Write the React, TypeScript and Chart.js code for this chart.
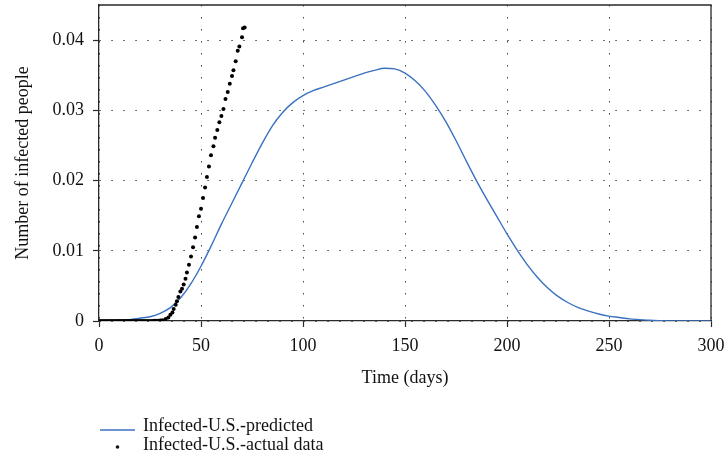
import React, { useEffect, useRef } from "react";
import { Chart, registerables } from "chart.js";

Chart.register(...registerables);

const predictedDays = [
  0, 5, 10, 15, 20, 25, 30, 35, 40, 45, 50, 55, 60, 65, 70, 75, 80, 85, 90, 95,
  100, 105, 110, 115, 120, 125, 130, 135, 140, 145, 150, 155, 160, 165, 170, 175,
  180, 185, 190, 195, 200, 205, 210, 215, 220, 225, 230, 235, 240, 245, 250, 255,
  260, 265, 270, 275, 280, 285, 290, 295, 300,
];
const predictedValues = [
  0, 0.00003, 0.0001, 0.0002, 0.0004, 0.0006, 0.0011, 0.0019, 0.0033, 0.0053,
  0.0078, 0.0107, 0.0138, 0.0167, 0.0196, 0.0225, 0.0253, 0.0278, 0.0297, 0.0311,
  0.0321, 0.0328, 0.0333, 0.0338, 0.0343, 0.0348, 0.0353, 0.0357, 0.036, 0.0359,
  0.0353, 0.0342, 0.0327, 0.0307, 0.0284, 0.0257, 0.0228, 0.02, 0.0174, 0.0149,
  0.0124, 0.0101, 0.008, 0.0062, 0.0047, 0.0035, 0.0026, 0.0019, 0.0014, 0.001,
  0.0007, 0.0005, 0.0003, 0.0002, 0.0001, 0.00005, 0.00002, 0.00001, 0, 0, 0,
];

const actualDays = [
  0, 1, 2, 3, 4, 5, 6, 7, 8, 9, 10, 11, 12, 13, 14, 15, 16, 17, 18, 19, 20, 21,
  22, 23, 24, 25, 26, 27, 28, 29, 30,
  31.1, 32.7, 34.0, 35.0, 36.0, 36.6, 37.6, 38.2, 38.9, 39.9,
  40.7, 41.5, 42.4, 43.1, 44.1, 45.1, 46.1, 47.1, 48.0, 49.0,
  50.0, 51.0, 52.0, 52.9, 53.9, 54.9, 56.1, 56.9, 58.0, 59.0,
  60.0, 61.0, 62.0, 63.1, 64.1, 65.2, 65.9, 67.0, 68.0, 68.8,
  70.1, 70.6, 71.4,
];
const actualValues = [
  0, 0, 0, 0, 0, 0, 0, 0, 0, 0, 0, 0, 0, 0, 0, 0, 0, 0, 0, 0, 0, 0, 0, 0, 0, 0,
  0, 0.00002, 0.00003, 0.00005, 0.00007,
  0.0001, 0.0003, 0.0005, 0.0009, 0.0012, 0.0017, 0.0023, 0.0028, 0.0034, 0.0042,
  0.0046, 0.0052, 0.006, 0.0069, 0.008, 0.0092, 0.0105, 0.0119, 0.0134, 0.0149,
  0.016, 0.0175, 0.019, 0.0205, 0.022, 0.0236, 0.0249, 0.0261, 0.0272, 0.0283,
  0.0292, 0.0302, 0.0316, 0.0326, 0.0338, 0.0349, 0.0357, 0.037, 0.0385, 0.0391,
  0.0404, 0.0417, 0.0418,
];

const yTickValues = [0, 0.01, 0.02, 0.03, 0.04];
const xTickValues = [0, 50, 100, 150, 200, 250, 300];

const legendLabels = ["Infected-U.S.-predicted", "Infected-U.S.-actual data"];
const xTitle = "Time (days)";
const yTitle = "Number of infected people";

const FONT = '"Liberation Serif", "Times New Roman", serif';
const BLUE = "#3a71c1";
const FRAME = "#2a2a2a";
const GRID = "#444444";

const framePlugin = {
  id: "frame",
  afterDraw(chart: any) {
    const { ctx, chartArea } = chart;
    ctx.save();
    ctx.strokeStyle = FRAME;
    ctx.lineWidth = 1.3;
    ctx.beginPath();
    ctx.moveTo(chartArea.left, chartArea.top);
    ctx.lineTo(chartArea.right, chartArea.top);
    ctx.lineTo(chartArea.right, chartArea.bottom);
    ctx.stroke();
    ctx.restore();
  },
};

const legendPlugin = {
  id: "customLegend",
  afterDraw(chart: any) {
    const { ctx } = chart;
    ctx.save();
    ctx.font = `18px ${FONT}`;
    ctx.fillStyle = "#111";
    ctx.textBaseline = "alphabetic";
    ctx.textAlign = "left";
    ctx.strokeStyle = BLUE;
    ctx.lineWidth = 1.4;
    ctx.beginPath();
    ctx.moveTo(100, 430);
    ctx.lineTo(135, 430);
    ctx.stroke();
    ctx.fillText(legendLabels[0], 143, 431);
    ctx.beginPath();
    ctx.arc(117.5, 447, 1.8, 0, Math.PI * 2);
    ctx.fill();
    ctx.fillText(legendLabels[1], 143, 450);
    ctx.restore();
  },
};

export default function App() {
  const ref = useRef<HTMLCanvasElement | null>(null);

  useEffect(() => {
    if (!ref.current) return;
    const chart = new Chart(ref.current, {
      type: "scatter",
      data: {
        datasets: [
          {
            label: legendLabels[1],
            data: actualDays.map((d, i) => ({ x: d, y: actualValues[i] })),
            showLine: false,
            pointRadius: 2,
            pointBackgroundColor: "#000",
            pointBorderWidth: 0,
            borderColor: "#000",
          },
          {
            label: legendLabels[0],
            data: predictedDays.map((d, i) => ({ x: d, y: predictedValues[i] })),
            showLine: true,
            pointRadius: 0,
            borderColor: BLUE,
            borderWidth: 1.4,
            cubicInterpolationMode: "monotone",
          },
        ],
      },
      options: {
        responsive: false,
        animation: false,
        devicePixelRatio: 1,
        layout: { padding: { left: 0, top: 5, right: 16, bottom: 71 } },
        plugins: {
          legend: { display: false },
          tooltip: { enabled: false },
        },
        scales: {
          x: {
            type: "linear",
            min: 0,
            max: 300,
            afterBuildTicks(scale: any) {
              scale.ticks = xTickValues.map((v) => ({ value: v }));
            },
            afterFit(scale: any) {
              scale.height = 68;
              scale.paddingLeft = 0;
              scale.paddingRight = 0;
            },
            ticks: {
              font: { family: FONT, size: 18 },
              color: "#111",
              padding: 8,
              maxRotation: 0,
            },
            grid: {
              color: GRID,
              lineWidth: 1,
              tickLength: 6,
              tickColor: FRAME,
              tickWidth: 1.2,
            },
            border: { color: FRAME, width: 1.3, dash: [1.5, 10.5] },
            title: {
              display: true,
              text: xTitle,
              font: { family: FONT, size: 18 },
              color: "#111",
              padding: { top: 0, bottom: 0 },
            },
          },
          y: {
            type: "linear",
            min: 0,
            max: 0.045,
            afterBuildTicks(scale: any) {
              scale.ticks = yTickValues.map((v) => ({ value: v }));
            },
            afterFit(scale: any) {
              scale.width = 99;
              scale.paddingTop = 0;
              scale.paddingBottom = 0;
            },
            ticks: {
              font: { family: FONT, size: 18 },
              color: "#111",
              padding: 9,
              callback: (v: any) => (Number(v) === 0 ? "0" : Number(v).toFixed(2)),
            },
            grid: {
              color: GRID,
              lineWidth: 1,
              tickLength: 6,
              tickColor: FRAME,
              tickWidth: 1.2,
            },
            border: { color: FRAME, width: 1.3, dash: [1.5, 10.5] },
            title: {
              display: true,
              text: yTitle,
              font: { family: FONT, size: 18 },
              color: "#111",
              padding: { top: 12, bottom: 0 },
            },
          },
        },
      },
      plugins: [framePlugin, legendPlugin],
    } as any);
    return () => chart.destroy();
  }, []);

  return (
    <div style={{ position: "fixed", left: 0, top: 0, width: 727, height: 460, background: "#fff" }}>
      <canvas ref={ref} width={727} height={460} style={{ display: "block" }} />
    </div>
  );
}
